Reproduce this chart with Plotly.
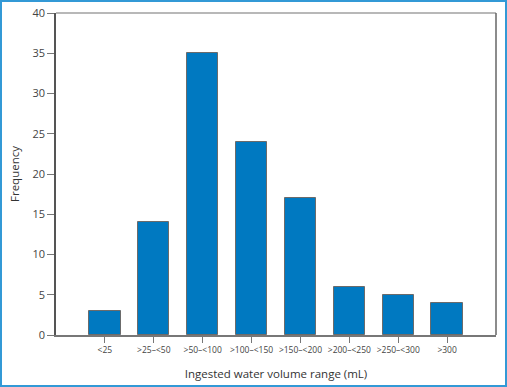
import plotly.graph_objects as go

categories = ["<25", ">25\u2013<50", ">50\u2013<100", ">100\u2013<150", ">150\u2013<200",
              ">200\u2013<250", ">250\u2013<300", ">300"]
frequency = [3, 14, 35, 24, 17, 6, 5, 4]
y_ticks = [0, 5, 10, 15, 20, 25, 30, 35, 40]

W, H = 507, 387
L, R, T, B = 56, 496, 13, 335
pw, ph = R - L, B - T

fig = go.Figure()
fig.add_trace(go.Bar(
    x=list(range(len(categories))), y=frequency, width=0.64,
    marker=dict(color="#0079c1", line=dict(color="#6b6b6b", width=1)),
))

def px(x):
    return (x - L) / pw

def py(y):
    return (B - y) / ph

# outer blue frame
fig.add_shape(type="rect", xref="paper", yref="paper",
              x0=px(1), x1=px(506), y0=py(386), y1=py(1),
              line=dict(color="#3399d6", width=2), layer="above")
# top and right plot border
fig.add_shape(type="line", xref="paper", yref="paper", x0=0, x1=1, y0=1, y1=1,
              line=dict(color="#a0a0a0", width=1.5))
fig.add_shape(type="line", xref="paper", yref="paper", x0=1, x1=1, y0=0, y1=1,
              line=dict(color="#666666", width=1.5))

fig.update_layout(
    width=W, height=H,
    margin=dict(l=L, r=W - R, t=T, b=H - B, pad=0, autoexpand=False),
    paper_bgcolor="white", plot_bgcolor="white",
    showlegend=False,
    font=dict(family="Open Sans, Noto Sans, sans-serif", color="#333333"),
    bargap=0,
)
fig.update_xaxes(
    range=[-1, 8], tickmode="array", tickvals=list(range(len(categories))),
    ticktext=categories, ticks="outside", ticklen=6, tickcolor="#777777",
    showline=True, linecolor="#777777", linewidth=1.5, showgrid=False, zeroline=False,
    tickfont=dict(size=8.5, color="#444444"), automargin=False,
    title=dict(text="Ingested water volume range (mL)", font=dict(size=11.5, color="#333333"), standoff=16),
)
fig.update_yaxes(
    range=[0, 40], tickmode="array", tickvals=y_ticks, ticks="outside", ticklen=7,
    tickcolor="#777777", showline=True, linecolor="#555555", linewidth=1.5,
    showgrid=False, zeroline=False, automargin=False,
    tickfont=dict(size=11, color="#444444"),
    title=dict(text="Frequency", font=dict(size=11.5, color="#333333"), standoff=10),
)

fig.write_html("out.html", config={"displayModeBar": False},
               post_script="document.body.style.margin='0';document.body.style.overflow='hidden';")
